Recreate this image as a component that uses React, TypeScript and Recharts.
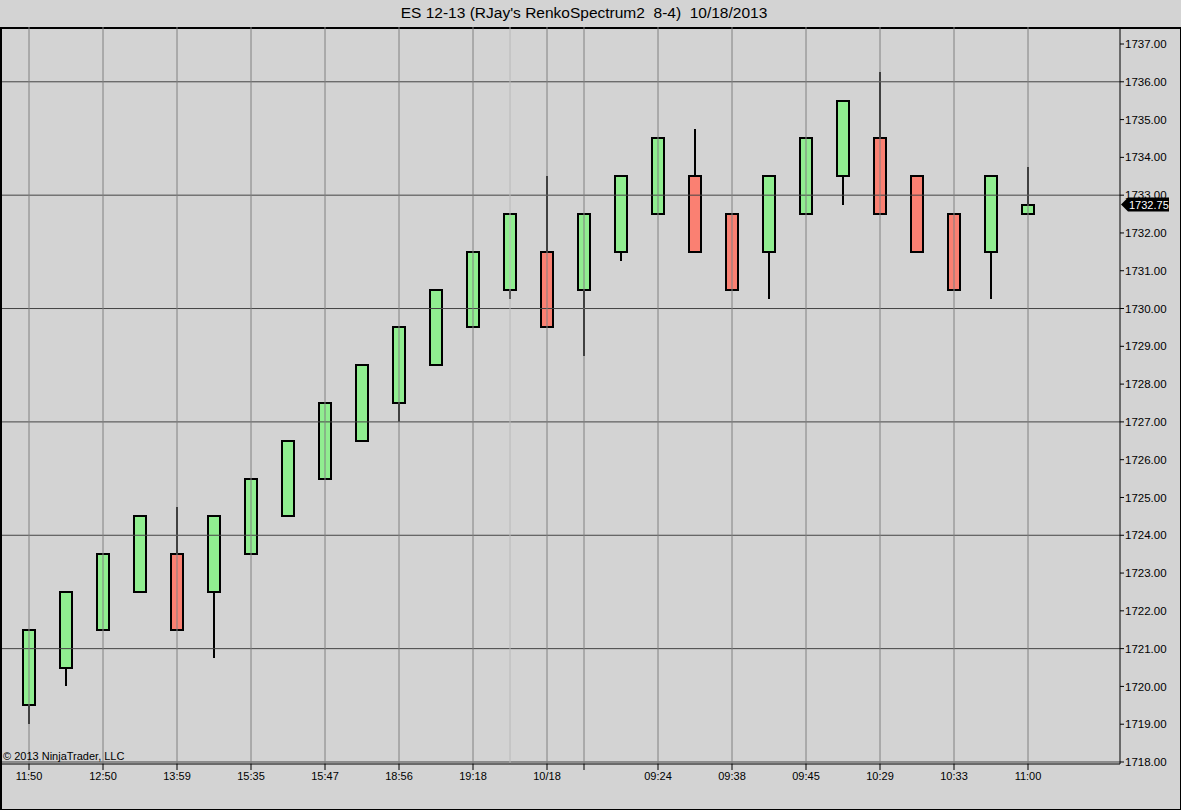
import { ComposedChart, Bar, XAxis, YAxis, ReferenceLine } from "recharts";

// renko bricks, left to right
const BAR_OPEN = [
  1719.5, 1720.5, 1721.5, 1722.5, 1723.5, 1722.5, 1723.5, 1724.5, 1725.5, 1726.5,
  1727.5, 1728.5, 1729.5, 1730.5, 1731.5, 1730.5, 1731.5, 1732.5, 1733.5, 1732.5,
  1731.5, 1732.5, 1733.5, 1734.5, 1733.5, 1732.5, 1731.5, 1732.5,
];
const BAR_CLOSE = [
  1721.5, 1722.5, 1723.5, 1724.5, 1721.5, 1724.5, 1725.5, 1726.5, 1727.5, 1728.5,
  1729.5, 1730.5, 1731.5, 1732.5, 1729.5, 1732.5, 1733.5, 1734.5, 1731.5, 1730.5,
  1733.5, 1734.5, 1735.5, 1732.5, 1731.5, 1730.5, 1733.5, 1732.75,
];
const BAR_HIGH = [
  1721.5, 1722.5, 1723.5, 1724.5, 1724.75, 1724.5, 1725.5, 1726.5, 1727.5, 1728.5,
  1729.5, 1730.5, 1731.5, 1732.5, 1733.5, 1732.5, 1733.5, 1734.5, 1734.75, 1732.5,
  1733.5, 1734.5, 1735.5, 1736.25, 1733.5, 1732.5, 1733.5, 1733.75,
];
const BAR_LOW = [
  1719.0, 1720.0, 1721.5, 1722.5, 1721.5, 1720.75, 1723.5, 1724.5, 1725.5, 1726.5,
  1727.0, 1728.5, 1729.5, 1730.25, 1729.5, 1728.75, 1731.25, 1732.5, 1731.5, 1730.5,
  1730.25, 1732.5, 1732.75, 1732.5, 1731.5, 1730.5, 1730.25, 1732.5,
];

const TICK_BARS = [0, 2, 4, 6, 8, 10, 12, 14, 15, 17, 19, 21, 23, 25, 27];
const TICK_LABELS = [
  "11:50", "12:50", "13:59", "15:35", "15:47", "18:56", "19:18", "10/18", "",
  "09:24", "09:38", "09:45", "10:29", "10:33", "11:00",
];
const SESSION_BREAK = 13;

const LAST_PRICE = 1732.75;
const PRICE_TICKS = [
  1718, 1719, 1720, 1721, 1722, 1723, 1724, 1725, 1726, 1727, 1728, 1729, 1730,
  1731, 1732, 1733, 1734, 1735, 1736, 1737, LAST_PRICE,
];
const GRID_PRICES = [1718, 1721, 1724, 1727, 1730, 1733, 1736];

const UP = "#90ee90";
const DOWN = "#fa8072";
const BG = "#d3d3d3";
const FONT = '"Liberation Sans", Arial, sans-serif';

const data = BAR_OPEN.map((open, i) => ({
  i,
  open,
  close: BAR_CLOSE[i],
  high: BAR_HIGH[i],
  low: BAR_LOW[i],
  range: [BAR_LOW[i], BAR_HIGH[i]],
}));

function RenkoBar(props: any) {
  const { x, y, width, height, payload } = props;
  const { open, close, high, low } = payload;
  const top = Math.min(y, y + height);
  const h = Math.abs(height);
  const px = h / (high - low);
  const yOf = (v: number) => Math.round(top + (high - v) * px);
  const cx = Math.round(x + width / 2);
  const bodyTop = yOf(Math.max(open, close));
  const bodyBot = yOf(Math.min(open, close));
  return (
    <g>
      <line x1={cx} x2={cx} y1={yOf(high)} y2={yOf(low)} stroke="#000" strokeWidth={2} />
      <rect
        x={cx - 6}
        y={bodyTop}
        width={12}
        height={bodyBot - bodyTop}
        fill={close >= open ? UP : DOWN}
        stroke="#000"
        strokeWidth={2}
      />
    </g>
  );
}

function PriceTick(props: any) {
  const { x, y, payload } = props;
  const ax = x - 5;
  const label = payload.value.toFixed(2);
  if (payload.value === LAST_PRICE) {
    return (
      <g>
        <polygon
          points={`${ax + 1},${y} ${ax + 8},${y - 7} ${ax + 49},${y - 7} ${ax + 49},${y + 7} ${ax + 8},${y + 7}`}
          fill="#000"
        />
        <text x={ax + 9} y={y} dy="0.355em" fill="#fff" fontSize={11}>
          {label}
        </text>
      </g>
    );
  }
  return (
    <g>
      <line x1={ax} x2={ax + 4} y1={y} y2={y} stroke="#000" />
      <text x={x} y={y} dy="0.355em" fill="#000" fontSize={11.5}>
        {label}
      </text>
    </g>
  );
}

export default function App() {
  return (
    <div
      style={{
        position: "absolute",
        left: 0,
        top: 0,
        width: 1181,
        height: 810,
        background: BG,
        fontFamily: FONT,
        overflow: "hidden",
      }}
    >
      <div
        style={{
          position: "absolute",
          left: 0,
          top: 0,
          width: 1168,
          height: 27,
          lineHeight: "26px",
          textAlign: "center",
          fontSize: 15.5,
          whiteSpace: "pre",
          color: "#000",
        }}
      >
        {"ES 12-13 (RJay's RenkoSpectrum2  8-4)  10/18/2013"}
      </div>
      <div
        style={{
          position: "absolute",
          left: 0,
          top: 27,
          width: 1181,
          height: 783,
          boxSizing: "border-box",
          borderTop: "2px solid #000",
          borderLeft: "2px solid #000",
          borderRight: "1px solid #000",
          borderBottom: "1px solid #000",
        }}
      />
      <div style={{ position: "absolute", left: 0, top: 0 }}>
        <ComposedChart
          width={1181}
          height={810}
          data={data}
          margin={{ top: 27, right: 1, bottom: 16, left: 2 }}
        >
          <XAxis
            type="number"
            dataKey="i"
            domain={[-27 / 37, 1091 / 37]}
            allowDataOverflow
            ticks={TICK_BARS}
            interval={0}
            tickFormatter={(v: number) => TICK_LABELS[TICK_BARS.indexOf(v)]}
            height={30}
            stroke="#000"
            tickSize={6}
            tick={{ fill: "#000", fontSize: 11 }}
          />
          <YAxis
            orientation="right"
            type="number"
            domain={[1717.947, 1737.45]}
            allowDataOverflow
            ticks={PRICE_TICKS}
            interval={0}
            width={60}
            stroke="#000"
            tickLine={false}
            tickSize={4}
            tickMargin={1}
            tick={<PriceTick />}
          />
          {GRID_PRICES.map((p) => (
            <ReferenceLine key={"h" + p} y={p} stroke="#444" strokeWidth={1} />
          ))}
          {TICK_BARS.map((b) => (
            <ReferenceLine key={"v" + b} x={b} stroke="#808080" strokeWidth={1} />
          ))}
          <ReferenceLine x={SESSION_BREAK} stroke="#b8b8b8" strokeWidth={1} />
          <Bar
            dataKey="range"
            barSize={14}
            shape={<RenkoBar />}
            isAnimationActive={false}
          />
        </ComposedChart>
      </div>
      <div
        style={{
          position: "absolute",
          left: 3,
          top: 751,
          fontSize: 11,
          lineHeight: "11px",
          color: "#000",
        }}
      >
        © 2013 NinjaTrader, LLC
      </div>
    </div>
  );
}
